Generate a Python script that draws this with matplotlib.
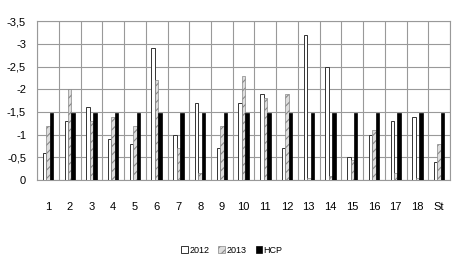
import numpy as np
import matplotlib
matplotlib.use("Agg")
from matplotlib import pyplot as plt

categories = [str(i) for i in range(1, 19)] + ["St"]
values_2012 = [-0.6, -1.3, -1.6, -0.9, -0.8, -2.9, -1.0, -1.7, -0.7, -1.7,
               -1.9, -0.7, -3.2, -2.5, -0.5, -1.0, -1.3, -1.4, -0.4]
values_2013 = [-1.2, -2.0, -1.3, -1.4, -1.2, -2.2, -0.7, -0.15, -1.2, -2.3,
               -1.8, -1.9, -0.05, -0.1, -0.45, -1.1, -0.15, -0.05, -0.8]
values_hcp = [-1.47] * 19
ytick_vals = [0, -0.5, -1, -1.5, -2, -2.5, -3, -3.5]
ytick_labels = ["0", "-0,5", "-1", "-1,5", "-2", "-2,5", "-3", "-3,5"]

plt.rcParams['font.family'] = ['Liberation Sans', 'DejaVu Sans']
plt.rcParams['hatch.color'] = '#666666'
plt.rcParams['hatch.linewidth'] = 0.8

fig = plt.figure(figsize=(4.64, 2.78), dpi=100)
ax = fig.add_axes([0.08, 0.352, 0.89, 0.572])

x = np.arange(len(categories))
w = 0.16
ax.bar(x - w, values_2012, w, color='white', edgecolor='#333333', linewidth=0.7,
       label='2012', zorder=3)
ax.bar(x, values_2013, w, color='#dddddd', edgecolor='#888888', linewidth=0.5,
       hatch='////', label='2013', zorder=3)
ax.bar(x + w, values_hcp, w, color='black', edgecolor='black', linewidth=0.5,
       label='HCP', zorder=3)

ax.set_xlim(-0.5, len(categories) - 0.5)
ax.set_ylim(0, -3.5)
ax.set_yticks(ytick_vals)
ax.set_yticklabels(ytick_labels)
ax.set_xticks(x)
ax.set_xticklabels(categories)
ax.set_xticks(np.arange(-0.5, len(categories), 1.0), minor=True)
ax.grid(True, which='minor', axis='x', color='#999999', linewidth=0.8, zorder=0)
ax.grid(True, which='major', axis='y', color='#999999', linewidth=0.8, zorder=0)
ax.tick_params(axis='both', which='both', length=0, labelsize=8)
ax.tick_params(axis='x', pad=16)
ax.tick_params(axis='y', pad=8)
for s in ax.spines.values():
    s.set_color('#999999')
    s.set_linewidth(0.8)

fig.legend(loc='center', bbox_to_anchor=(0.5, 0.1), ncol=3, frameon=False,
           fontsize=6.5, handlelength=0.7, handleheight=0.9, handletextpad=0.2,
           columnspacing=1.0)

fig.savefig("out.png", dpi=100)
